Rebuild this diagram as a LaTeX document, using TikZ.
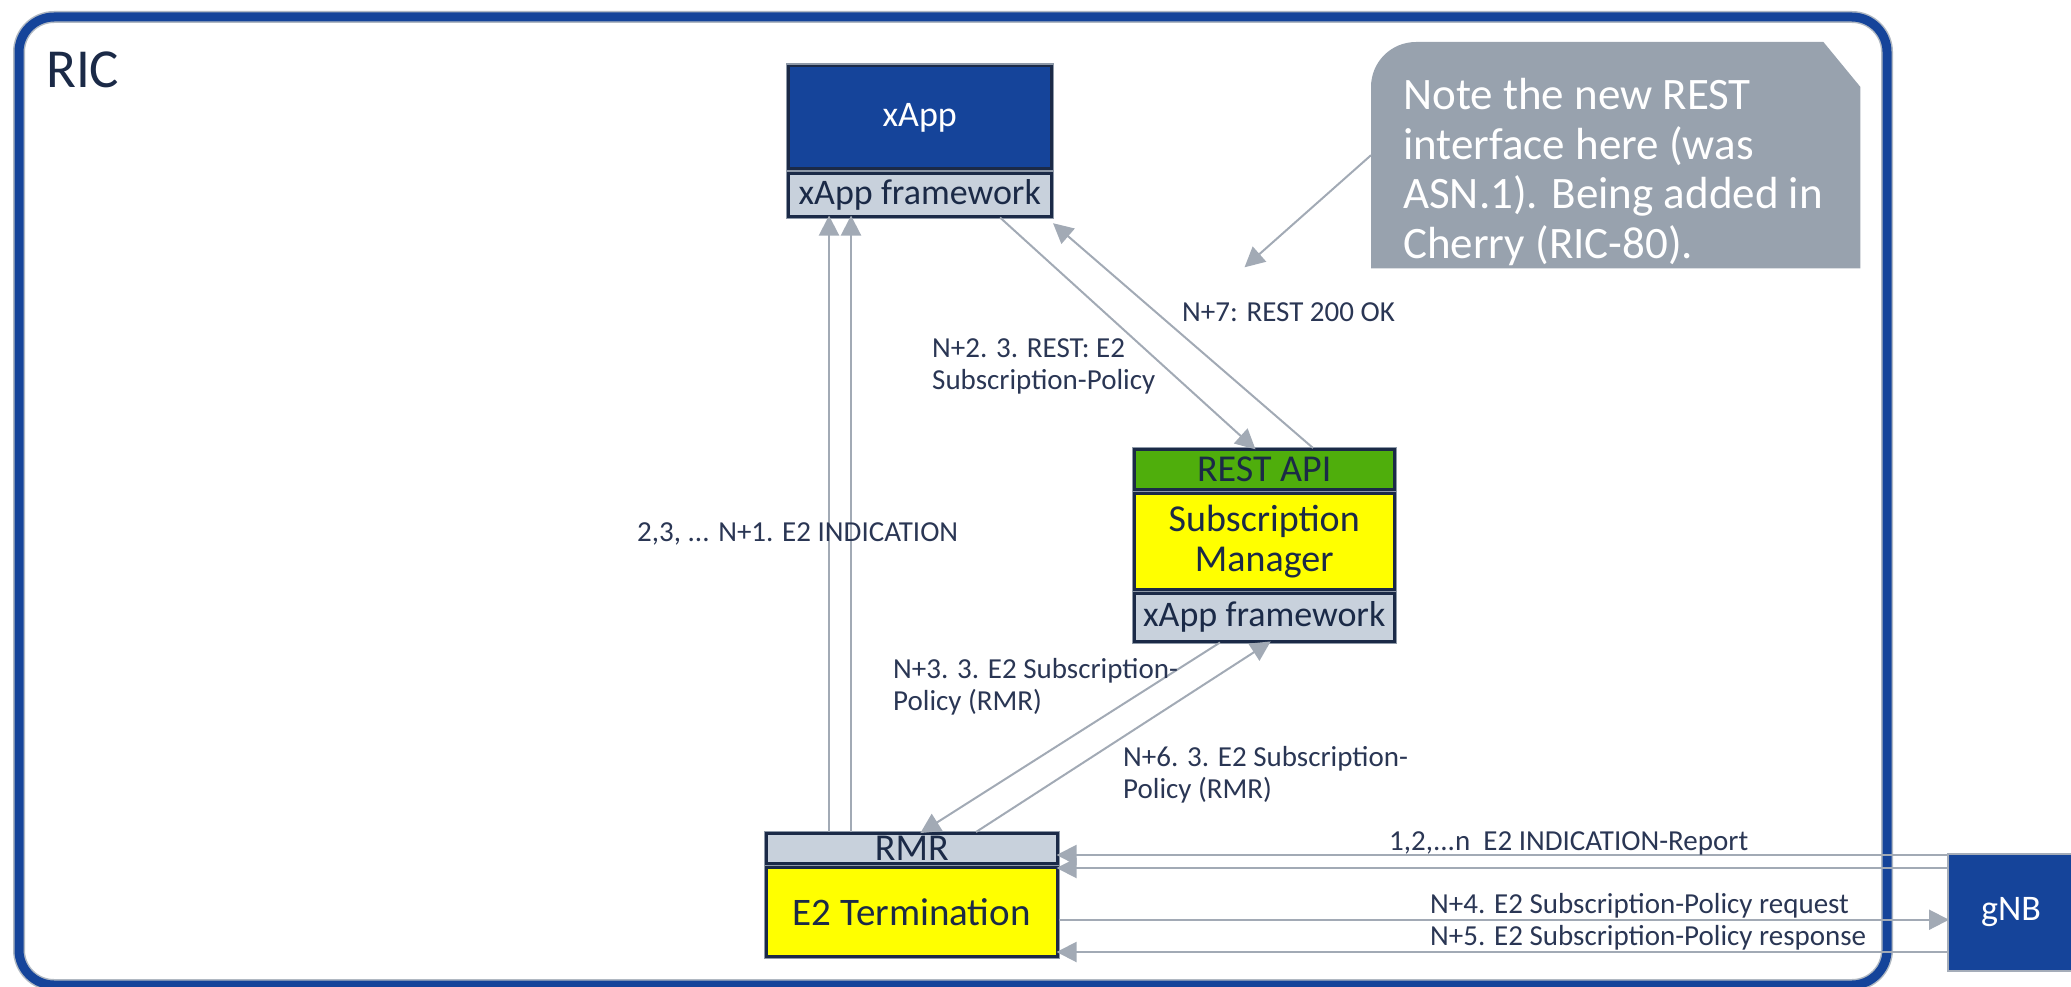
\documentclass[tikz,border=0pt]{standalone}
\usepackage{fontspec}
\setmainfont{Carlito}
\usetikzlibrary{arrows.meta,calc}
\definecolor{ricblue}{HTML}{15449A}
\definecolor{navy}{HTML}{1B2A47}
\definecolor{fwgray}{HTML}{C8D1DC}
\definecolor{restgreen}{HTML}{4FAE0C}
\definecolor{smyellow}{HTML}{FFFF00}
\definecolor{notegray}{HTML}{98A2AE}
\definecolor{conngray}{HTML}{A2AAB5}
\definecolor{outgray}{HTML}{8E99A8}
\definecolor{labeltext}{HTML}{2A3654}
\begin{document}
\begin{tikzpicture}[x=1pt,y=-1pt,
  ricbox/.style={rectangle, rounded corners=35pt, draw=ricblue, line width=9pt, preaction={draw=outgray!70, line width=12pt}, inner sep=0pt, anchor=north west},
  box/.style={rectangle, draw=navy, line width=2.5pt, preaction={draw=outgray, line width=5.5pt}, inner sep=0pt, anchor=north west, text=navy, align=center},
  conn/.style={draw=conngray, line width=2pt, -{Triangle[length=20pt,width=20pt]}, color=conngray, shorten >=-2pt},
  lbl/.style={anchor=west, inner sep=0pt, text=labeltext, font=\fontsize{29}{32}\selectfont, align=left},
  notetxt/.style={anchor=base west, inner sep=0pt, text=white, font=\fontsize{45}{49}\selectfont},
]
\useasboundingbox (0,0) rectangle (2071,987);
\node[ricbox, minimum width=1868pt, minimum height=968pt] (ric) at (14.5,12.5) {};
\node[anchor=base west, inner sep=0pt, text=navy, font=\fontsize{55}{60}\selectfont] (riclbl) at (46,88) {RIC};

% xApp
\node[box, fill=ricblue, text=white, minimum width=263pt, minimum height=102.5pt, font=\fontsize{36}{40}\selectfont] (xapp) at (787,65) {xApp};
\node[box, fill=fwgray, minimum width=263pt, minimum height=42.5pt, font=\fontsize{36}{40}\selectfont] (xfw) at (787,172.5) {xApp framework};

% Subscription manager
\node[box, fill=restgreen, minimum width=260pt, minimum height=40pt, font=\fontsize{38}{40}\selectfont] (rest) at (1133,448) {REST API};
\node[box, fill=smyellow, minimum width=260pt, minimum height=96pt, font=\fontsize{38}{40}\selectfont] (sm) at (1133,492) {Subscription\\Manager};
\node[box, fill=fwgray, minimum width=260pt, minimum height=48pt, font=\fontsize{36}{40}\selectfont] (smfw) at (1133,592) {xApp framework};

% E2 termination
\node[box, fill=fwgray, minimum width=291pt, minimum height=30pt, font=\fontsize{38}{40}\selectfont] (rmr) at (765,832) {RMR};
\node[box, fill=smyellow, minimum width=291pt, minimum height=89pt, font=\fontsize{39}{40}\selectfont] (e2t) at (765,866) {E2 Termination};

% gNB
\node[rectangle, anchor=north west, inner sep=0pt, fill=ricblue, draw=outgray!80, line width=2pt, text=white, minimum width=126pt, minimum height=117pt, font=\fontsize{36}{40}\selectfont] (gnb) at (1947,853) {gNB};

% note
\node[inner sep=0pt, minimum width=489pt, minimum height=226pt, anchor=north west] (note) at (1371,42) {};
\fill[notegray] (note.south west) -- ($(note.north west)+(0,45)$)
  .. controls ($(note.north west)+(0,20)$) and ($(note.north west)+(20,0)$) .. ($(note.north west)+(45,0)$)
  -- ($(note.north east)+(-37,0)$) -- ($(note.north east)+(0,45)$) -- (note.south east) -- cycle;
\begin{scope}
\clip (note.south west) rectangle (note.north east);
\node[notetxt] (n1) at (1403,110) {Note the new REST};
\node[notetxt] (n2) at (1403,160) {interface here (was};
\node[notetxt] (n3) at (1403,208) {ASN.1). Being added in};
\node[notetxt] (n4) at (1403,258) {Cherry (RIC-80).};
\end{scope}

% connectors
\draw[conn] ([xshift=64pt]rmr.north west) -- ([xshift=42pt]xfw.south west);
\draw[conn] ([xshift=86pt]rmr.north west) -- ([xshift=64pt]xfw.south west);
\draw[conn] ([xshift=213pt]xfw.south west) -- ([xshift=121pt]rest.north west);
\draw[conn] ([xshift=180pt]rest.north west) -- ($(xfw.south east)+(2,7)$);
\coordinate (notetip) at (1246,266);
\draw[conn] (note.west) -- (notetip);
\draw[conn] ([xshift=87pt]smfw.south west) -- ([xshift=157pt]rmr.north west);
\draw[conn] ([xshift=211pt]rmr.north west) -- ([xshift=136pt]smfw.south west);
\draw[conn] ([yshift=-2pt]gnb.north west) coordinate (g1) -- (g1 -| rmr.east);
\draw[conn] ([yshift=-15pt]gnb.north west) coordinate (g2) -- (g2 -| rmr.east);
\draw[conn] ([yshift=-8pt]e2t.east) coordinate (g3) -- (g3 -| gnb.west);
\draw[conn] ([yshift=-39.5pt]gnb.west) coordinate (g4) -- (g4 -| e2t.east);

% labels
\node[lbl] (l1) at (932,366) {N+2. 3. REST: E2\\Subscription-Policy};
\node[lbl] (l2) at (1182,312) {N+7: REST 200 OK};
\node[lbl] (l3) at (637,534) {2,3, ... N+1. E2 INDICATION};
\node[lbl] (l4) at (893,687) {N+3. 3. E2 Subscription-\\Policy (RMR)};
\node[lbl] (l5) at (1123,775) {N+6. 3. E2 Subscription-\\Policy (RMR)};
\node[lbl] (l6) at (1389,843) {1,2,...n\ \ E2 INDICATION-Report};
\node[lbl] (l7) at (1430,906) {N+4. E2 Subscription-Policy request};
\node[lbl] (l8) at (1430,938) {N+5. E2 Subscription-Policy response};
\end{tikzpicture}
\end{document}
